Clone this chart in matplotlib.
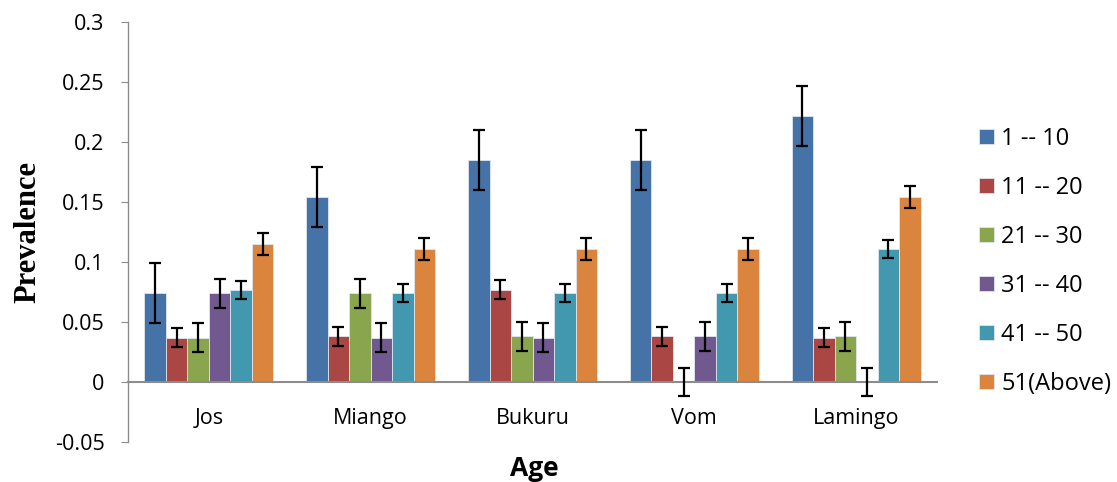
import numpy as np
import matplotlib
matplotlib.use("Agg")
import matplotlib.pyplot as plt

# === 数据 ===
sites = ["Jos", "Miango", "Bukuru", "Vom", "Lamingo"]
groups = ["1 -- 10", "11 -- 20", "21 -- 30", "31 -- 40", "41 -- 50", "51(Above)"]
colors = ["#4572A7", "#AA4643", "#89A54E", "#71588F", "#4198AF", "#DB843D"]

age_1_10 = [0.074, 0.154, 0.185, 0.185, 0.222]
age_11_20 = [0.037, 0.038, 0.077, 0.038, 0.037]
age_21_30 = [0.037, 0.074, 0.038, 0.0, 0.038]
age_31_40 = [0.074, 0.037, 0.037, 0.038, 0.0]
age_41_50 = [0.077, 0.074, 0.074, 0.074, 0.111]
age_51_up = [0.115, 0.111, 0.111, 0.111, 0.154]

err_1_10 = [0.025, 0.025, 0.025, 0.025, 0.025]
err_11_20 = [0.008, 0.008, 0.008, 0.008, 0.008]
err_21_30 = [0.012, 0.012, 0.012, 0.012, 0.012]
err_31_40 = [0.012, 0.012, 0.012, 0.012, 0.012]
err_41_50 = [0.0075, 0.0075, 0.0075, 0.0075, 0.0075]
err_51_up = [0.009, 0.009, 0.009, 0.009, 0.009]

values = [age_1_10, age_11_20, age_21_30, age_31_40, age_41_50, age_51_up]
errors = [err_1_10, err_11_20, err_21_30, err_31_40, err_41_50, err_51_up]

# === 绘图 ===
plt.rcParams['font.family'] = ['Open Sans', 'DejaVu Sans']
fig = plt.figure(figsize=(11.17, 4.82), dpi=100)
ax = fig.add_axes([0.1146, 0.083, 0.7243, 0.8714])

x = np.arange(len(sites))
bw = 129 / 161.8 / 6
for i in range(6):
    pos = x - 3 * bw + bw * (i + 0.5)
    ax.bar(pos, values[i], bw, color=colors[i], edgecolor="#dfe6ee", linewidth=0.6,
           label=groups[i], zorder=2)
    ax.errorbar(pos, values[i], yerr=errors[i], fmt="none", ecolor="black",
                elinewidth=1.6, capsize=4.5, capthick=1.6, zorder=3)

ax.set_xlim(-0.5, len(sites) - 0.5)
ax.set_ylim(-0.05, 0.3)
ax.set_yticks([-0.05, 0, 0.05, 0.1, 0.15, 0.2, 0.25, 0.3])
ax.set_yticklabels(["-0.05", "0", "0.05", "0.1", "0.15", "0.2", "0.25", "0.3"])
ax.set_xticks(x)
ax.set_xticklabels(sites)

for s in ["top", "right"]:
    ax.spines[s].set_visible(False)
ax.spines["bottom"].set_position(("data", 0))
ax.spines["bottom"].set_color("#8c8c8c")
ax.spines["bottom"].set_linewidth(1.5)
ax.spines["left"].set_color("#8c8c8c")
ax.spines["left"].set_linewidth(1.0)
ax.tick_params(axis="y", labelsize=15.5, length=5, color="#8c8c8c", pad=12)
ax.tick_params(axis="x", labelsize=15.5, length=0, pad=19)

fig.text(0.025, 0.519, "Prevalence", rotation=90, ha="center", va="center",
         fontsize=22, fontweight="bold", family="Liberation Serif")
fig.text(0.478, 0.027, "Age", ha="center", va="center", fontsize=19, fontweight="bold")

ax.legend(loc="upper left", bbox_to_anchor=(0.8765, 0.737), bbox_transform=fig.transFigure,
          frameon=False, fontsize=17, labelspacing=1.06, handlelength=0.64,
          handleheight=0.64, handletextpad=0.3, borderaxespad=0, borderpad=0)

fig.savefig("out.png", dpi=100)
